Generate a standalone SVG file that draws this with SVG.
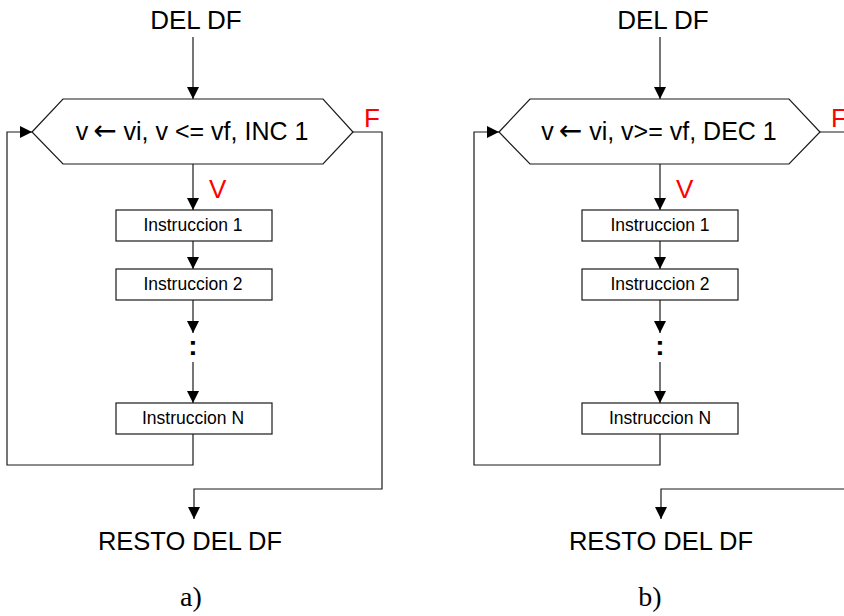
<svg xmlns="http://www.w3.org/2000/svg" width="844" height="616" viewBox="0 0 844 616">
<style>
.bg{fill:#ffffff}
.shape{fill:#ffffff;stroke:#1a1a1a;stroke-width:1.2}
.conn{fill:none;stroke:#1a1a1a;stroke-width:1.2}
.t{font-family:"Liberation Sans",Arial,sans-serif;fill:#000;text-anchor:middle}
.big{font-size:26px}
.rest{font-size:25.5px}
.hex{font-size:25px}
.ar{font-family:"DejaVu Sans",sans-serif;font-size:28px}
.box{font-size:17.5px}
.red{font-family:"Liberation Sans",Arial,sans-serif;font-size:26px;fill:#ff0000}
.dots{font-family:"Liberation Sans",Arial,sans-serif;font-size:28px;font-weight:bold;text-anchor:middle}
.cap{font-family:"Liberation Serif","Times New Roman",serif;font-size:28px;text-anchor:middle;fill:#000}
</style>
<defs>
<marker id="arr" markerUnits="userSpaceOnUse" markerWidth="12" markerHeight="12" refX="12" refY="6" orient="auto">
<path d="M0,0 L12,6 L0,12 z" fill="#000"/>
</marker>
</defs>
<rect class="bg" x="0" y="0" width="844" height="616"/>

<!-- Diagram a -->
<g id="a-connectors">
<path class="conn" d="M193,37 V99" marker-end="url(#arr)"/>
<path class="conn" d="M193,164 V210" marker-end="url(#arr)"/>
<path class="conn" d="M193,241 V269" marker-end="url(#arr)"/>
<path class="conn" d="M193,300 V333" marker-end="url(#arr)"/>
<path class="conn" d="M193,362 V403" marker-end="url(#arr)"/>
<path class="conn" d="M193,434 V465 H7 V132 H32" marker-end="url(#arr)"/>
<path class="conn" d="M353,132 H382 V489 H194 V519" marker-end="url(#arr)"/>
</g>
<g id="a-start"><text class="t big" x="196" y="29">DEL DF</text></g>
<g id="a-loop">
<polygon class="shape" points="32,132 63,99 323,99 353,132 323,164 63,164"/>
<text class="t hex" x="192" y="140">v<tspan class="ar" dx="5">←</tspan> vi, v &lt;= vf, INC 1</text>
</g>
<g id="a-labels">
<text class="red" x="364" y="127">F</text>
<text class="red" x="209" y="198">V</text>
</g>
<g id="a-inst1"><rect class="shape" x="116" y="210" width="156" height="31"/><text class="t box" x="193" y="231">Instruccion 1</text></g>
<g id="a-inst2"><rect class="shape" x="116" y="269" width="156" height="31"/><text class="t box" x="193" y="290">Instruccion 2</text></g>
<g id="a-dots"><text class="dots" x="193" y="355">:</text></g>
<g id="a-instN"><rect class="shape" x="116" y="403" width="156" height="31"/><text class="t box" x="193" y="424">Instruccion N</text></g>
<g id="a-end"><text class="t rest" x="190" y="550">RESTO DEL DF</text></g>
<text class="cap" x="191" y="606">a)</text>

<!-- Diagram b -->
<g id="b-connectors">
<path class="conn" d="M660,37 V99" marker-end="url(#arr)"/>
<path class="conn" d="M660,164 V210" marker-end="url(#arr)"/>
<path class="conn" d="M660,241 V269" marker-end="url(#arr)"/>
<path class="conn" d="M660,300 V333" marker-end="url(#arr)"/>
<path class="conn" d="M660,362 V403" marker-end="url(#arr)"/>
<path class="conn" d="M660,434 V465 H474 V132 H499" marker-end="url(#arr)"/>
<path class="conn" d="M820,132 H849 V489 H661 V519" marker-end="url(#arr)"/>
</g>
<g id="b-start"><text class="t big" x="663" y="29">DEL DF</text></g>
<g id="b-loop">
<polygon class="shape" points="499,132 530,99 789,99 820,132 789,164 530,164"/>
<text class="t hex" x="659" y="140">v<tspan class="ar" dx="5">←</tspan> vi, v&gt;= vf, DEC 1</text>
</g>
<g id="b-labels">
<text class="red" x="831" y="127">F</text>
<text class="red" x="676" y="198">V</text>
</g>
<g id="b-inst1"><rect class="shape" x="582" y="210" width="156" height="31"/><text class="t box" x="660" y="231">Instruccion 1</text></g>
<g id="b-inst2"><rect class="shape" x="582" y="269" width="156" height="31"/><text class="t box" x="660" y="290">Instruccion 2</text></g>
<g id="b-dots"><text class="dots" x="660" y="355">:</text></g>
<g id="b-instN"><rect class="shape" x="582" y="403" width="156" height="31"/><text class="t box" x="660" y="424">Instruccion N</text></g>
<g id="b-end"><text class="t rest" x="661" y="550">RESTO DEL DF</text></g>
<text class="cap" x="650" y="606">b)</text>
</svg>
